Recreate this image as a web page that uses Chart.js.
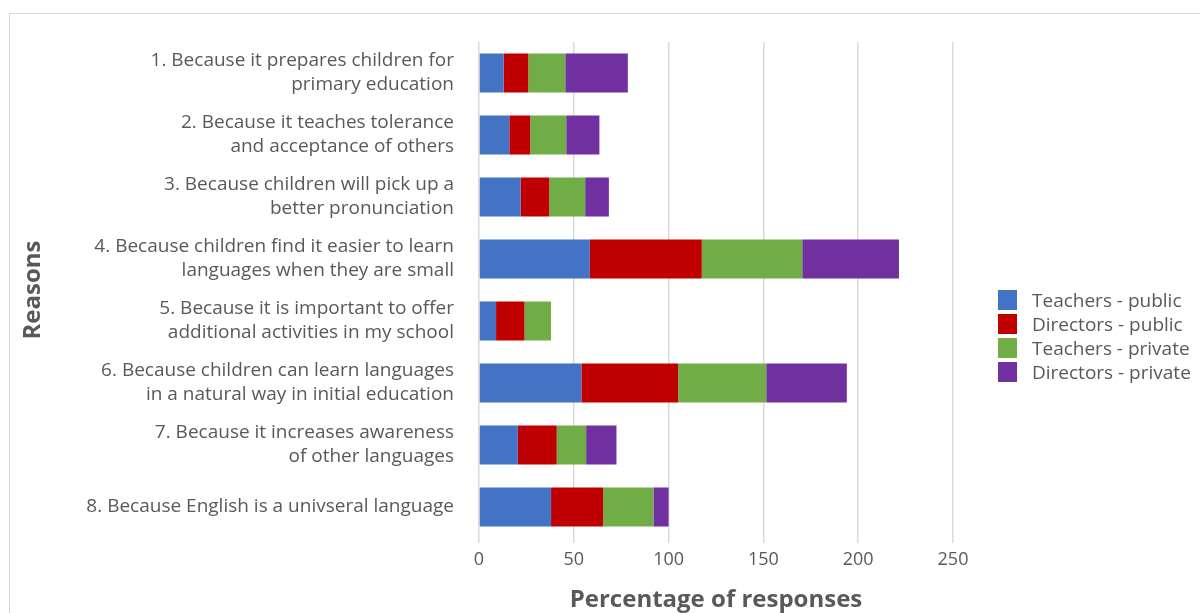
<!DOCTYPE html>
<html>
<head>
<meta charset="utf-8">
<title>Reasons</title>
<script src="https://cdn.jsdelivr.net/npm/chart.js@4/dist/chart.umd.min.js"></script>
<style>
    html, body { margin: 0; padding: 0; background: #fff; overflow: hidden; }
    #wrap { position: relative; width: 1200px; height: 613px; }
    #frame { position: absolute; left: 9px; top: 13px; width: 1300px; height: 700px; border: 1px solid #d9d9d9; }
    #chart { position: absolute; left: 0; top: 0; }
    #legend { position: absolute; left: 998px; top: 288px; font-family: 'Open Sans', sans-serif; font-size: 19px; color: #595959; }
    #legend .item { height: 24px; display: flex; align-items: center; white-space: nowrap; }
    #legend .box { width: 19px; height: 20px; margin-right: 15px; }
</style>
</head>
<body>
<div id="wrap">
    <div id="frame"></div>
    <canvas id="chart" width="1200" height="613"></canvas>
    <div id="legend"></div>
</div>
<script>
const reasons = [
    ["1. Because it prepares children for", "primary education"],
    ["2. Because it teaches tolerance", "and acceptance of others"],
    ["3. Because children will pick up a", "better pronunciation"],
    ["4. Because children find it easier to learn", "languages when they are small"],
    ["5. Because it is important to offer", "additional activities in my school"],
    ["6. Because children can learn languages", "in a natural way in initial education"],
    ["7. Because it increases awareness", "of other languages"],
    "8. Because English is a univseral language"
]

const teachersPublic = [13, 16, 22, 58.5, 9, 54, 20.5, 38]
const directorsPublic = [13, 11, 15, 59, 15, 51, 20.5, 27.5]
const teachersPrivate = [19.5, 19, 19, 53, 14, 46.5, 15.5, 26.5]
const directorsPrivate = [33, 17.5, 12.5, 51, 0, 42.5, 16, 8]

const xTicks = [0, 50, 100, 150, 200, 250]

const textColor = '#595959'
const fontFamily = "'Open Sans', sans-serif"

document.addEventListener('DOMContentLoaded', function() {
    const chart = drawChart()
    buildLegend(chart)
})

function drawChart() {
    const ctx = document.getElementById('chart')
    return new Chart(ctx, {
        type: 'bar',
        data: {
            labels: reasons,
            datasets: [
                { label: 'Teachers - public', data: teachersPublic, backgroundColor: '#4472C4' },
                { label: 'Directors - public', data: directorsPublic, backgroundColor: '#C00000' },
                { label: 'Teachers - private', data: teachersPrivate, backgroundColor: '#70AD47' },
                { label: 'Directors - private', data: directorsPrivate, backgroundColor: '#7030A0' }
            ]
        },
        options: {
            indexAxis: 'y',
            responsive: false,
            animation: false,
            barPercentage: 0.63,
            categoryPercentage: 1,
            layout: { padding: { left: 9, top: 42, right: 247, bottom: 0 } },
            scales: {
                x: {
                    stacked: true,
                    min: 0,
                    max: 250,
                    afterBuildTicks: function(scale) {
                        scale.ticks = xTicks.map(v => ({ value: v }))
                    },
                    afterFit: function(scale) { scale.height = 75 },
                    grid: { color: '#d9d9d9', lineWidth: 1.5, tickLength: 5 },
                    border: { display: false },
                    ticks: { color: textColor, padding: 6, font: { family: fontFamily, size: 18 } },
                    title: {
                        display: true,
                        text: 'Percentage of responses',
                        color: textColor,
                        padding: { top: 0, bottom: 0 },
                        font: { family: fontFamily, size: 24, weight: 'bold', lineHeight: 1.1 }
                    }
                },
                y: {
                    stacked: true,
                    afterFit: function(scale) { scale.width = 470 },
                    grid: { display: false, drawTicks: false },
                    border: { display: false },
                    ticks: { color: textColor, padding: 25, font: { family: fontFamily, size: 19, lineHeight: 1.26 } },
                    title: {
                        display: true,
                        text: 'Reasons',
                        color: textColor,
                        padding: { top: 10, bottom: 0 },
                        font: { family: fontFamily, size: 24, weight: 'bold' }
                    }
                }
            },
            plugins: {
                legend: { display: false },
                tooltip: { enabled: false }
            }
        }
    })
}

function buildLegend(chart) {
    const legend = document.getElementById('legend')
    chart.data.datasets.forEach(ds => {
        const item = document.createElement('div')
        item.className = 'item'
        const box = document.createElement('span')
        box.className = 'box'
        box.style.background = ds.backgroundColor
        const label = document.createElement('span')
        label.textContent = ds.label
        item.appendChild(box)
        item.appendChild(label)
        legend.appendChild(item)
    })
}
</script>
</body>
</html>
